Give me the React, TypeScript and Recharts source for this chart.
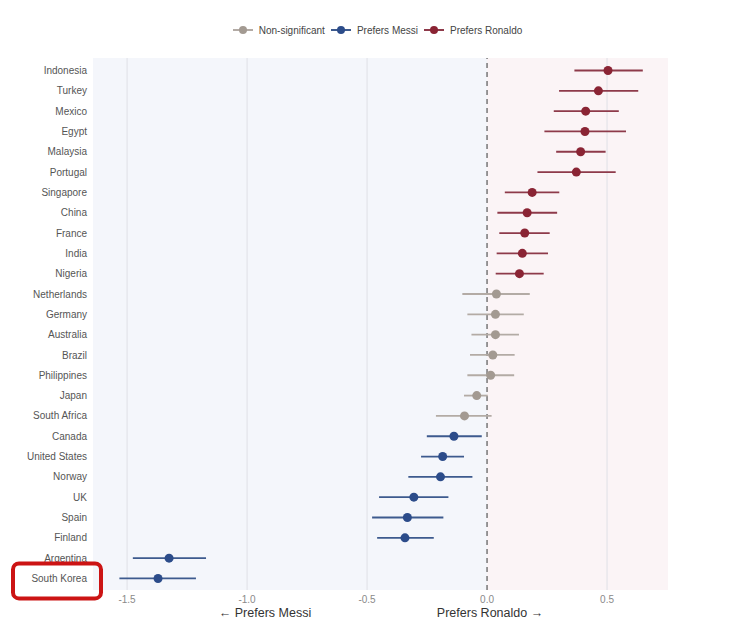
import React from 'react';
import {
  ScatterChart,
  Scatter,
  XAxis,
  YAxis,
  ErrorBar,
  ReferenceArea,
  ReferenceLine,
  Legend,
} from 'recharts';

const countries = [
  'Indonesia', 'Turkey', 'Mexico', 'Egypt', 'Malaysia', 'Portugal', 'Singapore', 'China', 'France', 'India',
  'Nigeria', 'Netherlands', 'Germany', 'Australia', 'Brazil', 'Philippines', 'Japan', 'South Africa', 'Canada',
  'United States', 'Norway', 'UK', 'Spain', 'Finland', 'Argentina', 'South Korea',
];
const estimates = [
  0.504, 0.464, 0.411, 0.408, 0.39, 0.372, 0.188, 0.167, 0.157, 0.147,
  0.135, 0.039, 0.035, 0.035, 0.024, 0.015, -0.043, -0.094, -0.138,
  -0.185, -0.194, -0.305, -0.332, -0.342, -1.325, -1.371,
];
const lowers = [
  0.364, 0.3, 0.278, 0.239, 0.288, 0.21, 0.074, 0.043, 0.051, 0.04,
  0.036, -0.103, -0.082, -0.065, -0.071, -0.082, -0.096, -0.213, -0.251,
  -0.275, -0.328, -0.45, -0.479, -0.458, -1.476, -1.532,
];
const uppers = [
  0.649, 0.63, 0.549, 0.579, 0.494, 0.536, 0.301, 0.292, 0.261, 0.254,
  0.236, 0.178, 0.153, 0.133, 0.115, 0.113, 0.003, 0.019, -0.022,
  -0.096, -0.061, -0.161, -0.182, -0.222, -1.171, -1.213,
];
const groups = [
  'ronaldo', 'ronaldo', 'ronaldo', 'ronaldo', 'ronaldo', 'ronaldo', 'ronaldo', 'ronaldo', 'ronaldo', 'ronaldo',
  'ronaldo', 'ns', 'ns', 'ns', 'ns', 'ns', 'ns', 'ns', 'messi',
  'messi', 'messi', 'messi', 'messi', 'messi', 'messi', 'messi',
];

const ROWS = countries.length;

const xTicks = [-1.5, -1.0, -0.5, 0.0, 0.5];
const gridTicks = [-1.5, -1.0, -0.5, 0.5];
const xDomain: [number, number] = [-1.642, 0.754];

const seriesDefs = [
  { key: 'ns', name: 'Non-significant', dot: '#a39a92', line: '#b3aba5' },
  { key: 'messi', name: 'Prefers Messi', dot: '#2c4c8a', line: '#3d5a8e' },
  { key: 'ronaldo', name: 'Prefers Ronaldo', dot: '#8a2434', line: '#8e3a4a' },
];

const rows = countries.map((c, i) => ({
  idx: i,
  country: c,
  value: estimates[i],
  err: [estimates[i] - lowers[i], uppers[i] - estimates[i]],
  group: groups[i],
}));

const FONT = '"Liberation Sans", Arial, sans-serif';

const LegendContent = () => (
  <div
    style={{
      display: 'flex',
      justifyContent: 'center',
      alignItems: 'center',
      height: 20,
      fontFamily: FONT,
      fontSize: 10,
      color: '#444',
    }}
  >
    {seriesDefs.map((s) => (
      <div key={s.key} style={{ display: 'flex', alignItems: 'center', marginRight: 6 }}>
        <svg width={20} height={10} style={{ marginRight: 6 }}>
          <line x1={0} y1={5} x2={20} y2={5} stroke={s.line} strokeWidth={2} />
          <circle cx={10} cy={5} r={4} fill={s.dot} />
        </svg>
        <span>{s.name}</span>
      </div>
    ))}
  </div>
);

const YTick = (props: any) => {
  const { x, y, payload } = props;
  const i = payload.value;
  const label = countries[i];
  return (
    <g>
      <text
        x={x}
        y={y}
        dy="0.355em"
        textAnchor="end"
        fontFamily={FONT}
        fontSize={10}
        fill="#555"
      >
        {label}
      </text>
      {label === 'South Korea' && (
        <rect
          x={x - 74}
          y={y - 15}
          width={88}
          height={35}
          rx={6}
          ry={6}
          fill="none"
          stroke="#cc1414"
          strokeWidth={4}
        />
      )}
    </g>
  );
};

const AxisLabels = (props: any) => {
  const { viewBox } = props;
  const x0 = viewBox.x;
  const y0 = viewBox.y;
  return (
    <g fontFamily={FONT} fontSize={12.5} fill="#333">
      <text x={x0 + 172} y={y0 + 27} textAnchor="middle">
        ← Prefers Messi
      </text>
      <text x={x0 + 397} y={y0 + 27} textAnchor="middle">
        Prefers Ronaldo →
      </text>
    </g>
  );
};

const Dot = (color: string) => (props: any) => {
  const { cx, cy } = props;
  if (cx == null || cy == null) return null;
  return <circle cx={cx} cy={cy} r={4.5} fill={color} />;
};

export default function App() {
  return (
    <div style={{ position: 'absolute', left: 0, top: 0, background: '#fff' }}>
      <ScatterChart
        width={729}
        height={636}
        margin={{ top: 38, right: 61, left: 0, bottom: 0 }}
      >
        <Legend
          verticalAlign="top"
          align="center"
          height={20}
          wrapperStyle={{ top: 20, left: 93, width: 575 }}
          content={<LegendContent />}
        />
        <XAxis
          type="number"
          dataKey="value"
          domain={xDomain}
          ticks={xTicks}
          allowDataOverflow
          tickFormatter={(v: number) => v.toFixed(1)}
          axisLine={false}
          tickLine={false}
          tickSize={4}
          tickMargin={2}
          height={46}
          tick={{ fontSize: 10, fill: '#8a8a8a', fontFamily: FONT }}
          label={{ content: <AxisLabels /> }}
        />
        <YAxis
          type="number"
          dataKey="idx"
          domain={[-0.615, ROWS - 1 + 0.568]}
          ticks={countries.map((_, i) => i)}
          interval={0}
          reversed
          allowDataOverflow
          axisLine={false}
          tickLine={false}
          tickSize={4}
          tickMargin={2}
          width={93}
          tick={<YTick />}
        />
        <ReferenceArea x1={xDomain[0]} x2={0} fill="#f4f6fb" fillOpacity={1} stroke="none" ifOverflow="hidden" />
        <ReferenceArea x1={0} x2={xDomain[1]} fill="#fbf4f6" fillOpacity={1} stroke="none" ifOverflow="hidden" />
        {gridTicks.map((t) => (
          <ReferenceLine key={t} x={t} stroke="#dfe0e6" strokeWidth={1} />
        ))}
        <ReferenceLine x={0} stroke="#777" strokeWidth={1.5} strokeDasharray="5 4" />
        {seriesDefs.map((s) => (
          <Scatter
            key={s.key}
            name={s.name}
            data={rows.filter((r) => r.group === s.key)}
            fill={s.dot}
            shape={Dot(s.dot)}
            isAnimationActive={false}
          >
            <ErrorBar
              dataKey="err"
              direction="x"
              width={0}
              stroke={s.line}
              strokeWidth={1.8}
              isAnimationActive={false}
            />
          </Scatter>
        ))}
      </ScatterChart>
    </div>
  );
}
